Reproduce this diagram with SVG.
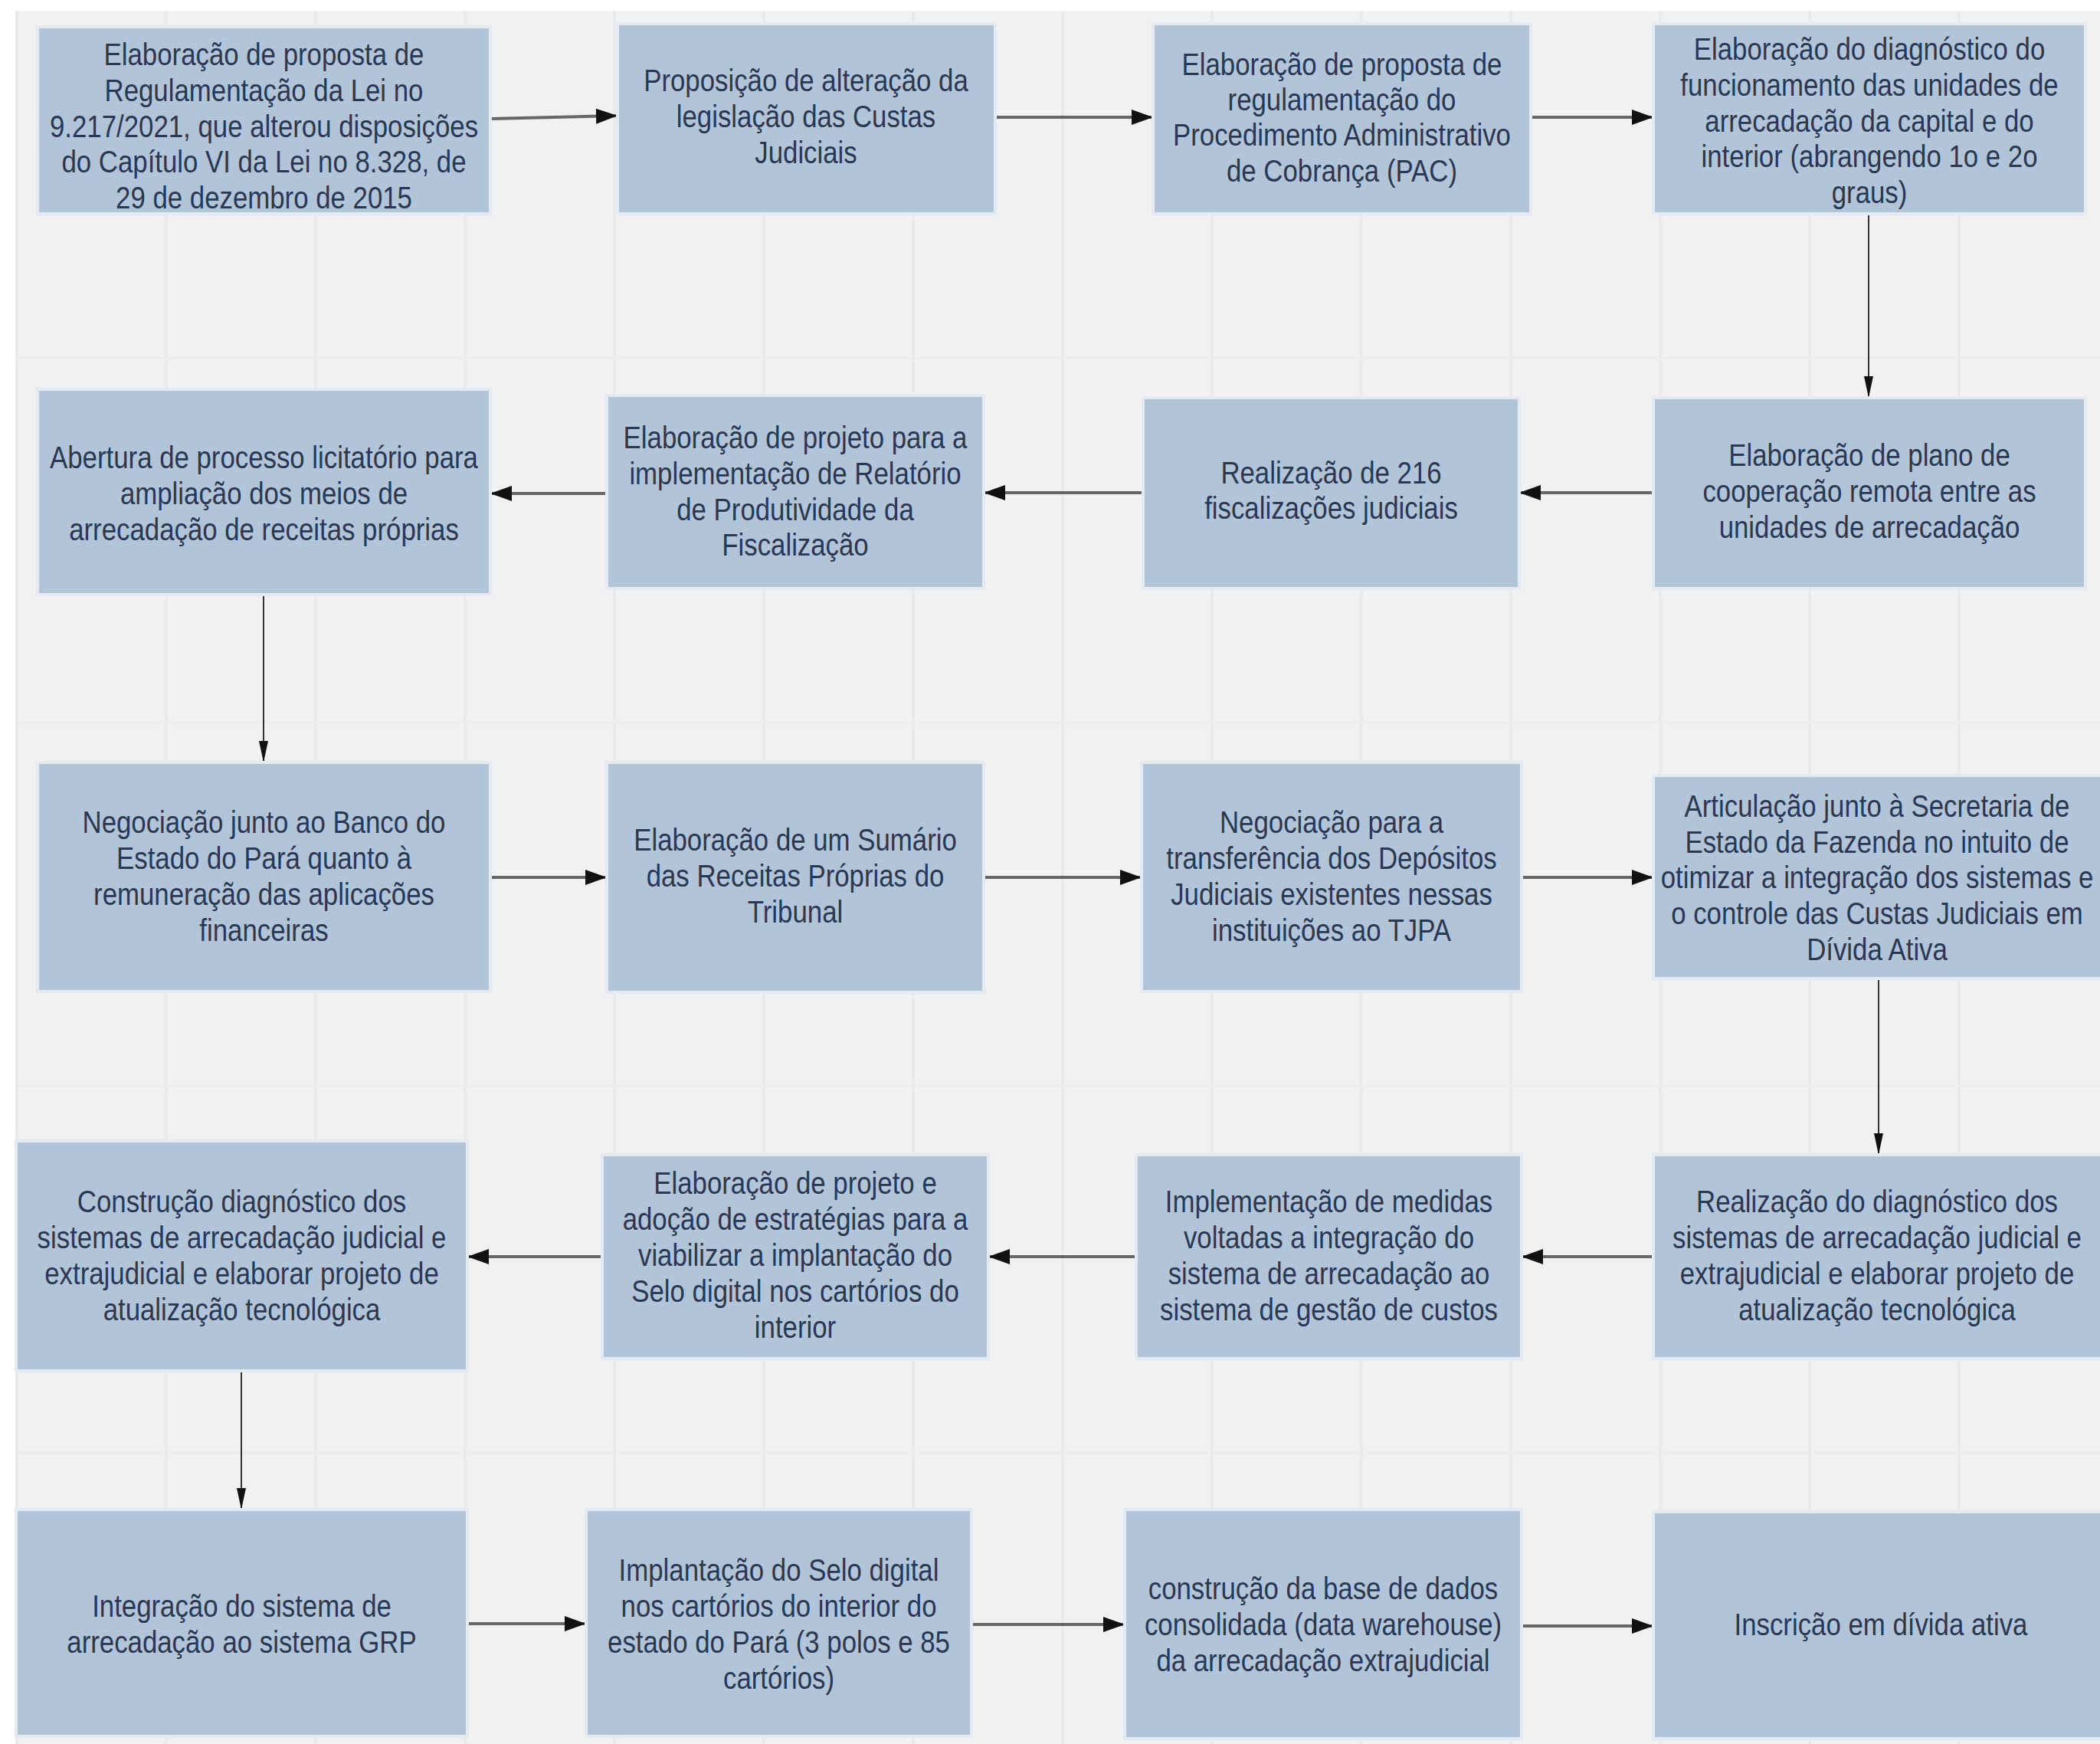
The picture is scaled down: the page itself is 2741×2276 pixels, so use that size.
<svg xmlns="http://www.w3.org/2000/svg" width="2741" height="2276" viewBox="0 0 2741 2276">
<style>
.bg{fill:#f1f1f1}
.gv{stroke:#e8e8e8;stroke-width:3}
.gh{stroke:#ececec;stroke-width:3}
.box{fill:#b1c4d8;stroke:#e3eaf1;stroke-width:4}
.t{font-family:"Liberation Sans",Arial,sans-serif;font-size:40px;fill:#2b3853;text-anchor:middle}
.eh{stroke:#666;stroke-width:4;fill:none}
.ev{stroke:#333;stroke-width:2;fill:none}
</style>
<defs>
<marker id="ah" markerUnits="userSpaceOnUse" markerWidth="28" markerHeight="20" refX="28" refY="10" orient="auto"><path d="M0,0 L28,10 L0,20 Z" fill="#111"/></marker>
<marker id="av" markerUnits="userSpaceOnUse" markerWidth="28" markerHeight="12" refX="28" refY="6" orient="auto"><path d="M0,0 L28,6 L0,12 Z" fill="#111"/></marker>
</defs>
<rect width="2741" height="2276" fill="#ffffff"/>
<rect class="bg" x="20" y="14" width="2721" height="2262"/>
<g id="grid">
<line class="gv" x1="22" y1="14" x2="22" y2="2276"/>
<line class="gv" x1="217" y1="14" x2="217" y2="2276"/>
<line class="gv" x1="412" y1="14" x2="412" y2="2276"/>
<line class="gv" x1="607" y1="14" x2="607" y2="2276"/>
<line class="gv" x1="802" y1="14" x2="802" y2="2276"/>
<line class="gv" x1="997" y1="14" x2="997" y2="2276"/>
<line class="gv" x1="1192" y1="14" x2="1192" y2="2276"/>
<line class="gv" x1="1387" y1="14" x2="1387" y2="2276"/>
<line class="gv" x1="1582" y1="14" x2="1582" y2="2276"/>
<line class="gv" x1="1777" y1="14" x2="1777" y2="2276"/>
<line class="gv" x1="1972" y1="14" x2="1972" y2="2276"/>
<line class="gv" x1="2167" y1="14" x2="2167" y2="2276"/>
<line class="gv" x1="2362" y1="14" x2="2362" y2="2276"/>
<line class="gv" x1="2557" y1="14" x2="2557" y2="2276"/>
<line class="gh" x1="20" y1="467" x2="2741" y2="467"/>
<line class="gh" x1="20" y1="943" x2="2741" y2="943"/>
<line class="gh" x1="20" y1="1417" x2="2741" y2="1417"/>
<line class="gh" x1="20" y1="1896" x2="2741" y2="1896"/>
</g>
<g id="connectors">
<line class="eh" x1="640" y1="155" x2="806" y2="151" marker-end="url(#ah)"/>
<line class="eh" x1="1299" y1="153" x2="1505" y2="153" marker-end="url(#ah)"/>
<line class="eh" x1="1998" y1="153" x2="2158" y2="153" marker-end="url(#ah)"/>
<line class="ev" x1="2439" y1="279" x2="2439" y2="519" marker-end="url(#av)"/>
<line class="eh" x1="2158" y1="643" x2="1983" y2="643" marker-end="url(#ah)"/>
<line class="eh" x1="1492" y1="643" x2="1284" y2="643" marker-end="url(#ah)"/>
<line class="eh" x1="792" y1="644" x2="640" y2="644" marker-end="url(#ah)"/>
<line class="ev" x1="344" y1="776" x2="344" y2="995" marker-end="url(#av)"/>
<line class="eh" x1="640" y1="1145" x2="792" y2="1145" marker-end="url(#ah)"/>
<line class="eh" x1="1284" y1="1145" x2="1490" y2="1145" marker-end="url(#ah)"/>
<line class="eh" x1="1986" y1="1145" x2="2158" y2="1145" marker-end="url(#ah)"/>
<line class="ev" x1="2452" y1="1277" x2="2452" y2="1507" marker-end="url(#av)"/>
<line class="eh" x1="2158" y1="1640" x2="1986" y2="1640" marker-end="url(#ah)"/>
<line class="eh" x1="1483" y1="1640" x2="1290" y2="1640" marker-end="url(#ah)"/>
<line class="eh" x1="786" y1="1640" x2="610" y2="1640" marker-end="url(#ah)"/>
<line class="ev" x1="315" y1="1789" x2="315" y2="1970" marker-end="url(#av)"/>
<line class="eh" x1="610" y1="2119" x2="765" y2="2119" marker-end="url(#ah)"/>
<line class="eh" x1="1268" y1="2120" x2="1468" y2="2120" marker-end="url(#ah)"/>
<line class="eh" x1="1986" y1="2122" x2="2158" y2="2122" marker-end="url(#ah)"/>
</g>
<g id="n1"><rect class="box" x="49" y="35" width="591" height="244"/>
<text class="t" transform="matrix(0.87 0 0 1 344.5 0)"><tspan x="0" y="85">Elaboração de proposta de</tspan><tspan x="0" y="132">Regulamentação da Lei no</tspan><tspan x="0" y="179">9.217/2021, que alterou disposições</tspan><tspan x="0" y="225">do Capítulo VI da Lei no 8.328, de</tspan><tspan x="0" y="272">29 de dezembro de 2015</tspan></text></g>
<g id="n2"><rect class="box" x="806" y="31" width="493" height="248"/>
<text class="t" transform="matrix(0.87 0 0 1 1052 0)"><tspan x="0" y="119">Proposição de alteração da</tspan><tspan x="0" y="166">legislação das Custas</tspan><tspan x="0" y="213">Judiciais</tspan></text></g>
<g id="n3"><rect class="box" x="1505" y="31" width="493" height="248"/>
<text class="t" transform="matrix(0.87 0 0 1 1751.5 0)"><tspan x="0" y="98">Elaboração de proposta de</tspan><tspan x="0" y="144">regulamentação do</tspan><tspan x="0" y="190">Procedimento Administrativo</tspan><tspan x="0" y="237">de Cobrança (PAC)</tspan></text></g>
<g id="n4"><rect class="box" x="2158" y="31" width="564" height="248"/>
<text class="t" transform="matrix(0.87 0 0 1 2440 0)"><tspan x="0" y="78">Elaboração do diagnóstico do</tspan><tspan x="0" y="125">funcionamento das unidades de</tspan><tspan x="0" y="172">arrecadação da capital e do</tspan><tspan x="0" y="218">interior (abrangendo 1o e 2o</tspan><tspan x="0" y="265">graus)</tspan></text></g>
<g id="n5"><rect class="box" x="49" y="508" width="591" height="268"/>
<text class="t" transform="matrix(0.87 0 0 1 344.5 0)"><tspan x="0" y="611">Abertura de processo licitatório para</tspan><tspan x="0" y="658">ampliação dos meios de</tspan><tspan x="0" y="705">arrecadação de receitas próprias</tspan></text></g>
<g id="n6"><rect class="box" x="792" y="516" width="492" height="252"/>
<text class="t" transform="matrix(0.87 0 0 1 1038 0)"><tspan x="0" y="585">Elaboração de projeto para a</tspan><tspan x="0" y="632">implementação de Relatório</tspan><tspan x="0" y="679">de Produtividade da</tspan><tspan x="0" y="725">Fiscalização</tspan></text></g>
<g id="n7"><rect class="box" x="1492" y="519" width="491" height="249"/>
<text class="t" transform="matrix(0.87 0 0 1 1737.5 0)"><tspan x="0" y="631">Realização de 216</tspan><tspan x="0" y="677">fiscalizações judiciais</tspan></text></g>
<g id="n8"><rect class="box" x="2158" y="519" width="564" height="249"/>
<text class="t" transform="matrix(0.87 0 0 1 2440 0)"><tspan x="0" y="608">Elaboração de plano de</tspan><tspan x="0" y="655">cooperação remota entre as</tspan><tspan x="0" y="702">unidades de arrecadação</tspan></text></g>
<g id="n9"><rect class="box" x="49" y="995" width="591" height="299"/>
<text class="t" transform="matrix(0.87 0 0 1 344.5 0)"><tspan x="0" y="1087">Negociação junto ao Banco do</tspan><tspan x="0" y="1134">Estado do Pará quanto à</tspan><tspan x="0" y="1181">remuneração das aplicações</tspan><tspan x="0" y="1228">financeiras</tspan></text></g>
<g id="n10"><rect class="box" x="792" y="995" width="492" height="300"/>
<text class="t" transform="matrix(0.87 0 0 1 1038 0)"><tspan x="0" y="1110">Elaboração de um Sumário</tspan><tspan x="0" y="1157">das Receitas Próprias do</tspan><tspan x="0" y="1204">Tribunal</tspan></text></g>
<g id="n11"><rect class="box" x="1490" y="995" width="496" height="299"/>
<text class="t" transform="matrix(0.87 0 0 1 1738 0)"><tspan x="0" y="1087">Negociação para a</tspan><tspan x="0" y="1134">transferência dos Depósitos</tspan><tspan x="0" y="1181">Judiciais existentes nessas</tspan><tspan x="0" y="1228">instituições ao TJPA</tspan></text></g>
<g id="n12"><rect class="box" x="2158" y="1012" width="590" height="265"/>
<text class="t" transform="matrix(0.87 0 0 1 2450 0)"><tspan x="0" y="1066">Articulação junto à Secretaria de</tspan><tspan x="0" y="1113">Estado da Fazenda no intuito de</tspan><tspan x="0" y="1159">otimizar a integração dos sistemas e</tspan><tspan x="0" y="1206">o controle das Custas Judiciais em</tspan><tspan x="0" y="1253">Dívida Ativa</tspan></text></g>
<g id="n13"><rect class="box" x="21" y="1489" width="589" height="300"/>
<text class="t" transform="matrix(0.87 0 0 1 315.5 0)"><tspan x="0" y="1582">Construção diagnóstico dos</tspan><tspan x="0" y="1629">sistemas de arrecadação judicial e</tspan><tspan x="0" y="1676">extrajudicial e elaborar projeto de</tspan><tspan x="0" y="1723">atualização tecnológica</tspan></text></g>
<g id="n14"><rect class="box" x="786" y="1507" width="504" height="266"/>
<text class="t" transform="matrix(0.87 0 0 1 1038 0)"><tspan x="0" y="1558">Elaboração de projeto e</tspan><tspan x="0" y="1605">adoção de estratégias para a</tspan><tspan x="0" y="1652">viabilizar a implantação do</tspan><tspan x="0" y="1699">Selo digital nos cartórios do</tspan><tspan x="0" y="1746">interior</tspan></text></g>
<g id="n15"><rect class="box" x="1483" y="1507" width="503" height="266"/>
<text class="t" transform="matrix(0.87 0 0 1 1734.5 0)"><tspan x="0" y="1582">Implementação de medidas</tspan><tspan x="0" y="1629">voltadas a integração do</tspan><tspan x="0" y="1676">sistema de arrecadação ao</tspan><tspan x="0" y="1723">sistema de gestão de custos</tspan></text></g>
<g id="n16"><rect class="box" x="2158" y="1507" width="590" height="266"/>
<text class="t" transform="matrix(0.87 0 0 1 2450 0)"><tspan x="0" y="1582">Realização do diagnóstico dos</tspan><tspan x="0" y="1629">sistemas de arrecadação judicial e</tspan><tspan x="0" y="1676">extrajudicial e elaborar projeto de</tspan><tspan x="0" y="1723">atualização tecnológica</tspan></text></g>
<g id="n17"><rect class="box" x="21" y="1970" width="589" height="296"/>
<text class="t" transform="matrix(0.87 0 0 1 315.5 0)"><tspan x="0" y="2110">Integração do sistema de</tspan><tspan x="0" y="2157">arrecadação ao sistema GRP</tspan></text></g>
<g id="n18"><rect class="box" x="765" y="1970" width="503" height="296"/>
<text class="t" transform="matrix(0.87 0 0 1 1016.5 0)"><tspan x="0" y="2063">Implantação do Selo digital</tspan><tspan x="0" y="2110">nos cartórios do interior do</tspan><tspan x="0" y="2157">estado do Pará (3 polos e 85</tspan><tspan x="0" y="2204">cartórios)</tspan></text></g>
<g id="n19"><rect class="box" x="1468" y="1970" width="518" height="299"/>
<text class="t" transform="matrix(0.87 0 0 1 1727 0)"><tspan x="0" y="2087">construção da base de dados</tspan><tspan x="0" y="2134">consolidada (data warehouse)</tspan><tspan x="0" y="2181">da arrecadação extrajudicial</tspan></text></g>
<g id="n20"><rect class="box" x="2158" y="1973" width="590" height="296"/>
<text class="t" transform="matrix(0.87 0 0 1 2455 0)"><tspan x="0" y="2134">Inscrição em dívida ativa</tspan></text></g>
</svg>
